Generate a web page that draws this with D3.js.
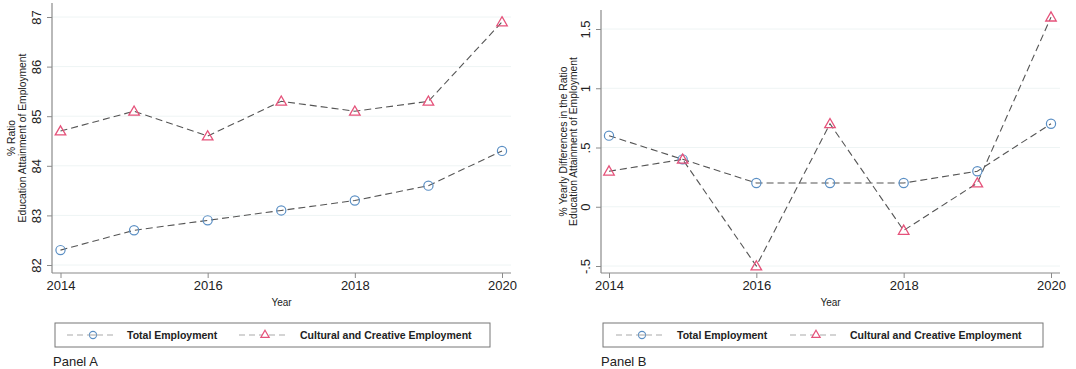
<!DOCTYPE html>
<html>
<head>
<meta charset="utf-8">
<script src="https://cdn.jsdelivr.net/npm/d3@7"></script>
<style>
  html, body { margin: 0; padding: 0; background: #fff; }
  svg { display: block; font-family: "Liberation Sans", Arial, Helvetica, sans-serif; }
</style>
</head>
<body>
<svg id="chart" width="1076" height="369"></svg>
<script>
// ---- data ----
const years = [2014, 2015, 2016, 2017, 2018, 2019, 2020];
const xTicks = [2014, 2016, 2018, 2020];

const panelATotal    = [82.3, 82.7, 82.9, 83.1, 83.3, 83.6, 84.3];
const panelACultural = [84.7, 85.1, 84.6, 85.3, 85.1, 85.3, 86.9];
const panelAYTicks = [82, 83, 84, 85, 86, 87];
const panelAYLabels = ["82", "83", "84", "85", "86", "87"];

const panelBTotal    = [0.6, 0.4, 0.2, 0.2, 0.2, 0.3, 0.7];
const panelBCultural = [0.3, 0.4, -0.5, 0.7, -0.2, 0.2, 1.6];
const panelBYTicks = [-0.5, 0, 0.5, 1, 1.5];
const panelBYLabels = ["-.5", "0", ".5", "1", "1.5"];

const seriesNames = ["Total Employment", "Cultural and Creative Employment"];
const panelTitles = ["Panel A", "Panel B"];
const yTitlesA = ["% Ratio", "Education Attainment of Employment"];
const yTitlesB = ["% Yearly Differences in the Ratio", "Education Attainment of Employment"];
const xTitle = "Year";

// ---- styling ----
const COL_CIRCLE = "#5b8fc4";
const COL_TRI = "#e5527a";
const COL_LINE = "#555555";
const COL_AXIS = "#8a8a8a";
const COL_GRID = "#eef4f4";

const svg = d3.select("#chart");

function drawPanel(cfg) {
  const g = svg.append("g");
  const x = d3.scaleLinear().domain([2014, 2020]).range([cfg.x0, cfg.x1]);
  const y = d3.scaleLinear().domain(cfg.yDomain).range(cfg.yRange);

  // gridlines
  g.selectAll(".grid").data(cfg.yTicks).enter().append("line")
    .attr("x1", cfg.axisX).attr("x2", cfg.gridEnd)
    .attr("y1", d => y(d)).attr("y2", d => y(d))
    .attr("stroke", COL_GRID).attr("stroke-width", 1);

  // y axis
  const yAxis = d3.axisLeft(y).tickValues(cfg.yTicks)
    .tickFormat((d, i) => cfg.yLabels[i]).tickSize(5).tickSizeOuter(0);
  const ya = g.append("g").attr("transform", `translate(${cfg.axisX},0)`).call(yAxis);
  ya.select(".domain").remove();
  ya.selectAll(".tick line").attr("stroke", COL_AXIS);
  ya.selectAll(".tick text")
    .attr("x", 0).attr("y", 0).attr("dy", null)
    .attr("transform", "translate(-11,0) rotate(-90)")
    .attr("text-anchor", "middle")
    .attr("font-size", 13).attr("fill", "#222")
    .attr("font-family", "Liberation Sans, Arial, sans-serif");
  g.append("line").attr("x1", cfg.axisX).attr("x2", cfg.axisX)
    .attr("y1", cfg.axisTop).attr("y2", cfg.axisY)
    .attr("stroke", COL_AXIS).attr("stroke-width", 1.2);

  // x axis
  const xAxis = d3.axisBottom(x).tickValues(xTicks).tickFormat(d3.format("d"))
    .tickSize(5).tickSizeOuter(0);
  const xa = g.append("g").attr("transform", `translate(0,${cfg.axisY})`).call(xAxis);
  xa.select(".domain").remove();
  xa.selectAll(".tick line").attr("stroke", COL_AXIS);
  xa.selectAll(".tick text").attr("font-size", 13).attr("fill", "#222")
    .attr("y", 8).attr("font-family", "Liberation Sans, Arial, sans-serif");
  g.append("line").attr("x1", cfg.axisX).attr("x2", cfg.gridEnd)
    .attr("y1", cfg.axisY).attr("y2", cfg.axisY)
    .attr("stroke", COL_AXIS).attr("stroke-width", 1.2);

  // axis titles
  g.append("text").attr("x", (cfg.axisX + cfg.gridEnd) / 2).attr("y", cfg.axisY + 33)
    .attr("text-anchor", "middle").attr("font-size", 10).attr("fill", "#222").text(xTitle);
  const ymid = (cfg.axisTop + cfg.axisY) / 2;
  cfg.yTitles.forEach((t, i) => {
    g.append("text")
      .attr("transform", `translate(${cfg.yTitleX + i * 10.5},${ymid}) rotate(-90)`)
      .attr("text-anchor", "middle").attr("font-size", 10.3).attr("fill", "#222").text(t);
  });

  // series
  const line = d3.line().x((d, i) => x(years[i])).y(d => y(d));
  [cfg.total, cfg.cultural].forEach(vals => {
    g.append("path").datum(vals).attr("d", line)
      .attr("fill", "none").attr("stroke", COL_LINE).attr("stroke-width", 1.1)
      .attr("stroke-dasharray", "7,4");
  });
  g.selectAll(".circ").data(cfg.total).enter().append("circle")
    .attr("cx", (d, i) => x(years[i])).attr("cy", d => y(d)).attr("r", 4.6)
    .attr("fill", "none").attr("stroke", COL_CIRCLE).attr("stroke-width", 1.2);
  const tri = d3.symbol().type(d3.symbolTriangle).size(48);
  g.selectAll(".tri").data(cfg.cultural).enter().append("path")
    .attr("d", tri)
    .attr("transform", (d, i) => `translate(${x(years[i])},${y(d) + 0.8})`)
    .attr("fill", "none").attr("stroke", COL_TRI).attr("stroke-width", 1.3);

  // legend
  const L = cfg.legend;
  g.append("rect").attr("x", L.x).attr("y", 323).attr("width", L.w).attr("height", 24)
    .attr("fill", "#fff").attr("stroke", "#777").attr("stroke-width", 1);
  const ly = 335;
  L.items.forEach((it, k) => {
    g.append("line").attr("x1", it.s0).attr("x2", it.s1).attr("y1", ly).attr("y2", ly)
      .attr("stroke", "#aaa").attr("stroke-width", 1.1).attr("stroke-dasharray", "6,4");
    const mx = (it.s0 + it.s1) / 2 + 1;
    if (k === 0) {
      g.append("circle").attr("cx", mx).attr("cy", ly).attr("r", 3.6)
        .attr("fill", "#fff").attr("stroke", COL_CIRCLE).attr("stroke-width", 1.1);
      g.append("line").attr("x1", mx - 3.6).attr("x2", mx + 3.6).attr("y1", ly).attr("y2", ly)
        .attr("stroke", "#aaa").attr("stroke-width", 1.1);
    } else {
      g.append("path").attr("d", d3.symbol().type(d3.symbolTriangle).size(30))
        .attr("transform", `translate(${mx},${ly})`)
        .attr("fill", "#fff").attr("stroke", COL_TRI).attr("stroke-width", 1.2);
    }
    g.append("text").attr("x", it.t).attr("y", ly + 3.7).attr("font-size", 10.5)
      .attr("font-weight", "bold").attr("fill", "#222").text(seriesNames[k]);
  });

  g.append("text").attr("x", L.x - 2).attr("y", 366).attr("font-size", 13)
    .attr("fill", "#222").text(cfg.title);
}

drawPanel({
  x0: 60.5, x1: 502, axisX: 52, gridEnd: 511, axisTop: 3, axisY: 273,
  yDomain: [82, 87], yRange: [265, 17],
  yTitles: yTitlesA, yTitleX: 15,
  yTicks: panelAYTicks, yLabels: panelAYLabels,
  total: panelATotal, cultural: panelACultural, title: panelTitles[0],
  legend: { x: 55, w: 435, items: [ { s0: 67, s1: 117, t: 127 }, { s0: 239, s1: 289, t: 300 } ] }
});

drawPanel({
  x0: 609, x1: 1051, axisX: 601, gridEnd: 1060, axisTop: 10, axisY: 273,
  yDomain: [-0.5, 1.5], yRange: [266, 29],
  yTitles: yTitlesB, yTitleX: 566.5,
  yTicks: panelBYTicks, yLabels: panelBYLabels,
  total: panelBTotal, cultural: panelBCultural, title: panelTitles[1],
  legend: { x: 603, w: 440, items: [ { s0: 616, s1: 666, t: 677 }, { s0: 790, s1: 840, t: 850 } ] }
});
</script>
</body>
</html>
